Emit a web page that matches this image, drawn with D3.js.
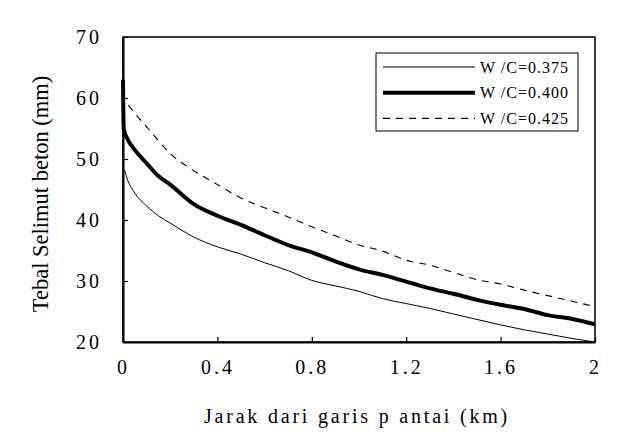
<!DOCTYPE html>
<html>
<head>
<meta charset="utf-8">
<script src="https://cdn.jsdelivr.net/npm/d3@7/dist/d3.min.js"></script>
<style>
  body { margin: 0; background: #fff; }
</style>
</head>
<body>
<script>
var outerWidth = 633;
var outerHeight = 437;
var serif = 'Liberation Serif';

// distance from coast (km)
var jarak = [0, 0.02, 0.05, 0.1, 0.15, 0.2, 0.3, 0.4, 0.5, 0.6, 0.7, 0.8, 0.9, 1.0,
             1.1, 1.2, 1.3, 1.4, 1.5, 1.6, 1.7, 1.8, 1.9, 2.0];

// cover thickness (mm) per W/C ratio
var wc375 = [48.3, 46.5, 44.4, 42.3, 40.7, 39.5, 37.2, 35.6, 34.4, 33.0, 31.7, 30.1, 29.2, 28.3,
             27.1, 26.3, 25.5, 24.6, 23.7, 22.8, 22.0, 21.3, 20.6, 20.0];
var wc400 = [55.0, 53.2, 51.5, 49.3, 47.2, 45.8, 42.6, 40.7, 39.2, 37.5, 35.9, 34.7, 33.2, 31.9,
             31.0, 29.9, 28.8, 27.9, 26.9, 26.1, 25.4, 24.4, 23.8, 22.9];
var wc425 = [60.0, 59.0, 57.5, 55.3, 53.0, 50.9, 48.1, 45.8, 43.6, 42.0, 40.5, 38.9, 37.4, 35.9,
             34.9, 33.4, 32.6, 31.4, 30.2, 29.5, 28.5, 27.6, 26.7, 25.8];
// spikes at the coastline (x = 0)
var spike = [48.3, 63, 65];

var seriesNames = ['W /C=0.375', 'W /C=0.400', 'W /C=0.425'];
var xTicks = [0, 0.4, 0.8, 1.2, 1.6, 2];
var yTicks = [20, 30, 40, 50, 60, 70];

var margin = {left: 123, top: 37, right: 38, bottom: 95};
var w = outerWidth - margin.left - margin.right;
var h = outerHeight - margin.top - margin.bottom;

var svg = d3.select('body').append('svg')
  .attr('width', outerWidth)
  .attr('height', outerHeight);

var g = svg.append('g').attr('transform', 'translate(' + margin.left + ',' + margin.top + ')');

var x = d3.scaleLinear().domain([0, 2]).range([0, w]);
var y = d3.scaleLinear().domain([20, 70]).range([h, 0]);

// frame
g.append('rect')
  .attr('width', w).attr('height', h)
  .attr('fill', 'none').attr('stroke', '#000').attr('stroke-width', 1.5);

var xAxis = g.append('g')
  .attr('transform', 'translate(0,' + h + ')')
  .call(d3.axisBottom(x).tickValues(xTicks).tickSizeInner(-5).tickSizeOuter(0).tickPadding(18)
    .tickFormat(function(d){ return d; }));
xAxis.attr('font-family', serif).attr('font-size', 20);
xAxis.select('.domain').attr('stroke-width', 2);
xAxis.selectAll('text').attr('letter-spacing', 3);
xAxis.selectAll('.tick line').attr('stroke-width', 1.2);

var yAxis = g.append('g')
  .call(d3.axisLeft(y).tickValues(yTicks).tickSizeInner(-5).tickSizeOuter(0).tickPadding(21));
yAxis.attr('font-family', serif).attr('font-size', 20);
yAxis.select('.domain').attr('stroke-width', 2);
yAxis.selectAll('text').attr('letter-spacing', 3);
yAxis.selectAll('.tick line').attr('stroke-width', 1.2);

// curves
var styles = [
  {width: 1, dash: null},
  {width: 4, dash: null},
  {width: 1.1, dash: '7,6'}
];
var allSeries = [wc375, wc400, wc425];

var line = d3.line()
  .curve(d3.curveMonotoneX)
  .x(function(d){ return x(d[0]); })
  .y(function(d){ return y(d[1]); });

allSeries.forEach(function(vals, i){
  var pts = [[0, spike[i]], [0.003, vals[0]]].concat(jarak.slice(1).map(function(k, j){
    return [k, vals[j + 1]];
  }));
  g.append('path')
    .datum(pts)
    .attr('fill', 'none')
    .attr('stroke', '#000')
    .attr('stroke-width', styles[i].width)
    .attr('stroke-dasharray', styles[i].dash)
    .attr('stroke-linejoin', 'round')
    .attr('d', line);
});

// legend
var legend = svg.append('g').attr('transform', 'translate(376,53)');
legend.append('rect')
  .attr('width', 202).attr('height', 78)
  .attr('fill', '#fff').attr('stroke', '#000').attr('stroke-width', 1);

seriesNames.forEach(function(name, i){
  var ly = 14 + i * 25.7;
  legend.append('line')
    .attr('x1', 7).attr('x2', 99)
    .attr('y1', ly).attr('y2', ly)
    .attr('stroke', '#000')
    .attr('stroke-width', styles[i].width)
    .attr('stroke-dasharray', styles[i].dash);
  legend.append('text')
    .attr('x', 104).attr('y', ly + 5.5)
    .attr('font-family', serif)
    .attr('font-size', 16)
    .attr('letter-spacing', 1)
    .text(name);
});

// axis titles
svg.append('text')
  .attr('x', 357).attr('y', 423)
  .attr('text-anchor', 'middle')
  .attr('font-family', serif)
  .attr('font-size', 20)
  .attr('letter-spacing', 2.8)
  .text('Jarak dari garis p antai (km)');

svg.append('text')
  .attr('transform', 'translate(48,194) rotate(-90)')
  .attr('text-anchor', 'middle')
  .attr('font-family', serif)
  .attr('font-size', 22.5)
  .text('Tebal Selimut beton (mm)');
</script>
</body>
</html>
